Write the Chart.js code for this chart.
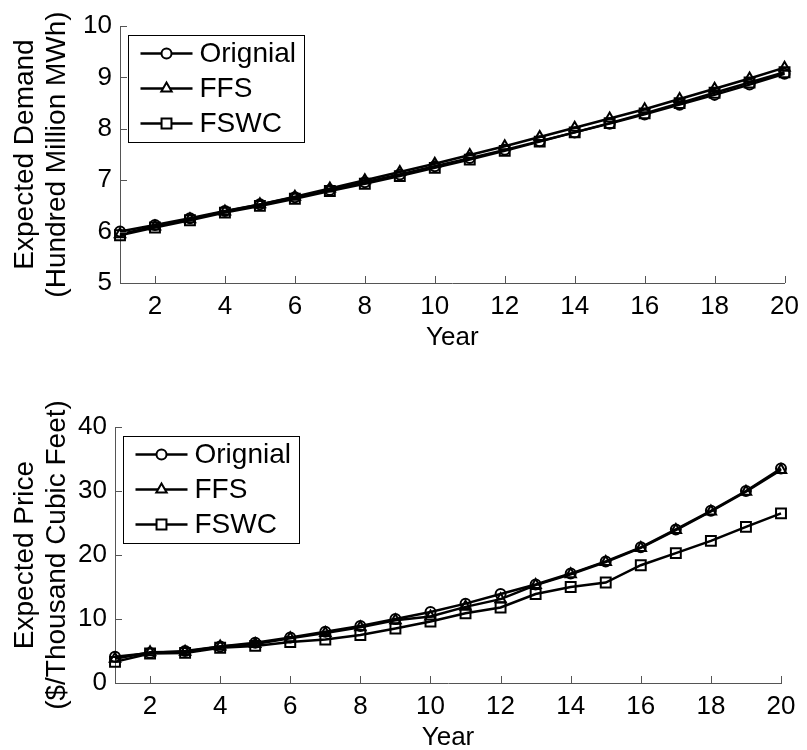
<!DOCTYPE html>
<html>
<head>
<meta charset="utf-8">
<script src="https://cdn.jsdelivr.net/npm/chart.js"></script>
<style>
  body { margin: 0; background: #fff; }
  .box { position: absolute; left: 0; width: 807px; height: 350px; }
</style>
</head>
<body>
<div class="box" style="top:0"><canvas id="demandChart" width="807" height="350"></canvas></div>
<div class="box" style="top:400px"><canvas id="priceChart" width="807" height="350"></canvas></div>
<script>
const years = [1, 2, 3, 4, 5, 6, 7, 8, 9, 10, 11, 12, 13, 14, 15, 16, 17, 18, 19, 20];
const xTicks = [2, 4, 6, 8, 10, 12, 14, 16, 18, 20];
const seriesNames = ["Orignial", "FFS", "FSWC"];

const demandOriginal = [6.00, 6.13, 6.26, 6.40, 6.53, 6.67, 6.81, 6.96, 7.11, 7.27, 7.43, 7.59, 7.76, 7.93, 8.10, 8.28, 8.47, 8.66, 8.86, 9.07];
const demandFFS = [5.95, 6.10, 6.24, 6.39, 6.53, 6.68, 6.84, 7.00, 7.16, 7.32, 7.49, 7.66, 7.84, 8.02, 8.20, 8.38, 8.58, 8.78, 8.98, 9.19];
const demandFSWC = [5.93, 6.08, 6.22, 6.37, 6.50, 6.64, 6.79, 6.93, 7.08, 7.24, 7.40, 7.57, 7.75, 7.93, 8.11, 8.30, 8.50, 8.70, 8.90, 9.10];
const demandTicks = [5, 6, 7, 8, 9, 10];

const priceOriginal = [4.1, 4.7, 5.0, 5.7, 6.3, 7.1, 8.0, 8.9, 10.0, 11.1, 12.4, 13.9, 15.4, 17.1, 19.0, 21.2, 24.0, 26.9, 30.0, 33.5];
const priceFFS = [3.8, 4.8, 4.9, 5.7, 6.1, 7.0, 7.8, 8.7, 9.8, 10.4, 11.9, 13.1, 15.3, 17.0, 18.9, 21.1, 23.9, 26.8, 29.9, 33.3];
const priceFSWC = [3.3, 4.6, 4.7, 5.5, 5.8, 6.4, 6.8, 7.5, 8.5, 9.6, 10.9, 11.8, 13.9, 15.0, 15.7, 18.4, 20.3, 22.2, 24.4, 26.5];
const priceTicks = [0, 10, 20, 30, 40];

Chart.defaults.font.family = '"Liberation Sans", Arial, sans-serif';
Chart.defaults.color = "#000";

const markers = [
	{ pointStyle: "circle", pointRadius: 5 },
	{ pointStyle: "triangle", pointRadius: 6 },
	{ pointStyle: "rect", pointRadius: 7 },
];

const axisColor = "#555";

// inward tick marks + matlab style legend box
const matlabAxes = {
	id: "matlabAxes",
	afterDatasetsDraw(chart) {
		const { ctx, chartArea, scales } = chart;
		ctx.save();
		ctx.strokeStyle = axisColor;
		ctx.lineWidth = 1;
		ctx.beginPath();
		scales.x.ticks.forEach((t) => {
			const px = Math.round(scales.x.getPixelForValue(t.value)) + 0.5;
			ctx.moveTo(px, chartArea.bottom);
			ctx.lineTo(px, chartArea.bottom - 7);
		});
		scales.y.ticks.forEach((t) => {
			const py = Math.round(scales.y.getPixelForValue(t.value)) + 0.5;
			ctx.moveTo(chartArea.left, py);
			ctx.lineTo(chartArea.left + 7, py);
		});
		ctx.stroke();

		const bx = chartArea.left + 8.5;
		const by = chartArea.top + 9.5;
		const bw = 176;
		const bh = 107;
		ctx.fillStyle = "#fff";
		ctx.fillRect(bx, by, bw, bh);
		ctx.strokeStyle = "#000";
		ctx.strokeRect(bx, by, bw, bh);

		ctx.font = '28px "Liberation Sans", Arial, sans-serif';
		ctx.textBaseline = "middle";
		chart.data.datasets.forEach((ds, i) => {
			const ry = by + 18 + i * 35;
			ctx.strokeStyle = "#000";
			ctx.lineWidth = 2.5;
			ctx.beginPath();
			ctx.moveTo(bx + 12, ry);
			ctx.lineTo(bx + 64, ry);
			ctx.stroke();
			ctx.fillStyle = "#fff";
			ctx.lineWidth = 2;
			Chart.helpers.drawPoint(
				ctx,
				{ pointStyle: ds.pointStyle, radius: ds.pointRadius, borderWidth: 2, rotation: 0 },
				bx + 38,
				ry
			);
			ctx.fillStyle = "#000";
			ctx.fillText(ds.label, bx + 71, ry + 1);
		});
		ctx.restore();
	},
};

function makeChart(id, series, yMin, yMax, yTicks, yTitle, leftWidth) {
	const ctx = document.getElementById(id).getContext("2d");
	return new Chart(ctx, {
		type: "line",
		data: {
			datasets: series.map((values, i) => ({
				label: seriesNames[i],
				data: years.map((y, j) => ({ x: y, y: values[j] })),
				borderColor: "#000",
				borderWidth: 2.5,
				backgroundColor: "rgba(0,0,0,0)",
				pointBackgroundColor: "rgba(0,0,0,0)",
				pointBorderColor: "#000",
				pointBorderWidth: 2,
				pointStyle: markers[i].pointStyle,
				pointRadius: markers[i].pointRadius,
				tension: 0,
				clip: false,
			})),
		},
		options: {
			responsive: false,
			devicePixelRatio: 1,
			animation: false,
			layout: {
				padding: { top: id === "demandChart" ? 26 : 27, right: 807 - leftWidth - 666, left: 0, bottom: 0 },
			},
			plugins: {
				legend: { display: false },
				tooltip: { enabled: false },
			},
			scales: {
				x: {
					type: "linear",
					min: 1,
					max: 20,
					afterBuildTicks: (scale) => {
						scale.ticks = xTicks.map((v) => ({ value: v }));
					},
					afterFit: (scale) => {
						scale.height = 67;
					},
					grid: { display: false, drawTicks: false },
					border: { display: true, color: axisColor, width: 1 },
					ticks: {
						font: { size: 26 },
						padding: 8,
						maxRotation: 0,
						autoSkip: false,
					},
					title: {
						display: true,
						text: "Year",
						font: { size: 26 },
						padding: { top: 0, bottom: -3 },
					},
				},
				y: {
					min: yMin,
					max: yMax,
					afterBuildTicks: (scale) => {
						scale.ticks = yTicks.map((v) => ({ value: v }));
					},
					afterFit: (scale) => {
						scale.width = leftWidth;
					},
					grid: { display: false, drawTicks: false },
					border: { display: true, color: axisColor, width: 1 },
					ticks: {
						font: { size: 26 },
						padding: 8,
					},
					title: {
						display: true,
						text: yTitle,
						font: { size: 28, lineHeight: 1.15 },
						padding: { top: 9, bottom: 0 },
					},
				},
			},
		},
		plugins: [matlabAxes],
	});
}

makeChart(
	"demandChart",
	[demandOriginal, demandFFS, demandFSWC],
	5,
	10,
	demandTicks,
	["Expected Demand", "(Hundred Million MWh)"],
	120
);

makeChart(
	"priceChart",
	[priceOriginal, priceFFS, priceFSWC],
	0,
	40,
	priceTicks,
	["Expected Price", "($/Thousand Cubic Feet)"],
	115
);
</script>
</body>
</html>
